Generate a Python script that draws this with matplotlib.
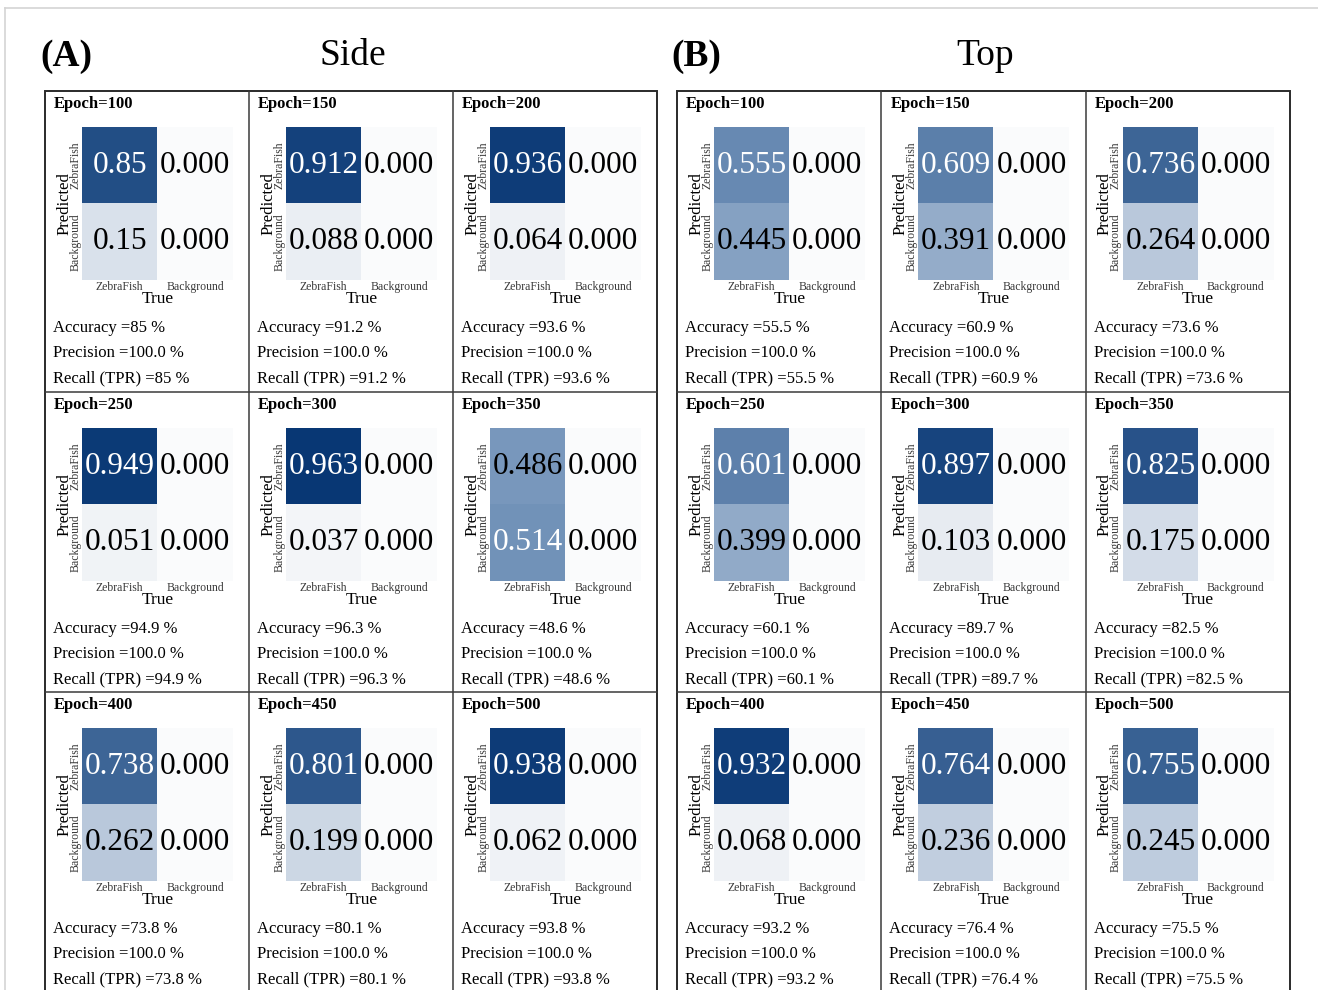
import numpy as np
import matplotlib
matplotlib.use("Agg")
import matplotlib.pyplot as plt
from matplotlib.colors import LinearSegmentedColormap
from matplotlib.lines import Line2D
from matplotlib.patches import Rectangle

plt.rcParams['font.family'] = ['Liberation Serif', 'DejaVu Serif']

# confusion matrix data (first column = true ZebraFish)
epochs = [100, 150, 200, 250, 300, 350, 400, 450, 500]
side_tp = [0.85, 0.912, 0.936, 0.949, 0.963, 0.486, 0.738, 0.801, 0.938]
side_fn = [0.15, 0.088, 0.064, 0.051, 0.037, 0.514, 0.262, 0.199, 0.062]
top_tp = [0.555, 0.609, 0.736, 0.601, 0.897, 0.825, 0.932, 0.764, 0.755]
top_fn = [0.445, 0.391, 0.264, 0.399, 0.103, 0.175, 0.068, 0.236, 0.245]
precision = [100.0] * 9
class_names = ["ZebraFish", "Background"]

W, H = 1318, 990
fig = plt.figure(figsize=(W / 100, H / 100), dpi=100)

cmap = LinearSegmentedColormap.from_list(
    "cm", [(0, "#fafbfc"), (0.1, "#e8ecf2"), (0.5, "#7595bb"), (1.0, "#00306f")])


def fx(x):
    return x / W


def fy(y):
    return 1 - y / H


def ftext(x, y, s, **kw):
    fig.text(fx(x), fy(y), s, **kw)


# page frame
fig.add_artist(Line2D([fx(5), fx(W)], [fy(8), fy(8)], color="#d4d4d4", lw=1.2))
fig.add_artist(Line2D([fx(5), fx(5)], [fy(8), fy(H)], color="#d4d4d4", lw=1.2))

panels = [("(A)", "Side", 45, 657, side_tp, side_fn, 66, 353),
          ("(B)", "Top", 677, 1290, top_tp, top_fn, 696, 985)]
row_tops = [91, 392, 692]

for tag, title, x0, x1, tp, fn, tagx, titlex in panels:
    ftext(tagx, 56, tag, fontsize=27, fontweight="bold", ha="center", va="center")
    ftext(titlex, 56, title, fontsize=27, ha="center", va="center")
    cw = (x1 - x0) / 3

    # grid lines
    fig.add_artist(Rectangle((fx(x0), fy(H + 20)), fx(x1) - fx(x0), fy(row_tops[0]) - fy(H + 20),
                             fill=False, ec="#2a2a2a", lw=1.4, transform=fig.transFigure))
    for k in (1, 2):
        xx = x0 + k * cw
        fig.add_artist(Line2D([fx(xx), fx(xx)], [fy(row_tops[0]), fy(H)], color="#3a3a3a", lw=1.1))
    for yy in row_tops[1:]:
        fig.add_artist(Line2D([fx(x0), fx(x1)], [fy(yy), fy(yy)], color="#3a3a3a", lw=1.1))

    for i, ep in enumerate(epochs):
        r, c = divmod(i, 3)
        cx = x0 + c * cw
        cy = row_tops[r]
        ftext(cx + 9, cy + 13, f"Epoch={ep}", fontsize=12, fontweight="bold", va="center")

        mat = np.array([[tp[i], 0.0], [fn[i], 0.0]])
        hx, hy, hw, hh = cx + 37, cy + 36, 151, 153
        ax = fig.add_axes([fx(hx), fy(hy + hh), hw / W, hh / H])
        ax.imshow(mat, cmap=cmap, vmin=0, vmax=1, aspect="auto")
        for (rr, cc), v in np.ndenumerate(mat):
            label = str(v) if cc == 0 else "0.000"
            ax.text(cc, rr, label, ha="center", va="center", fontsize=22.5,
                    color="white" if v > 0.5 else "black")
        ax.set_xticks([0, 1], class_names, fontsize=8.5, color="#3a3a3a")
        ax.set_yticks([0, 1], class_names, fontsize=8.5, color="#3a3a3a",
                      rotation=90, va="center")
        ax.tick_params(length=0, pad=0.5)
        ax.set_xlabel("True", fontsize=12.5, labelpad=-1)
        ax.set_ylabel("Predicted", fontsize=12, labelpad=-2)
        for s in ax.spines.values():
            s.set_visible(False)

        acc = f"{round(tp[i] * 100, 1):g}"
        ftext(cx + 8, cy + 237, f"Accuracy ={acc} %", fontsize=12, va="center")
        ftext(cx + 8, cy + 262, f"Precision ={precision[i]:.1f} %", fontsize=12, va="center")
        ftext(cx + 8, cy + 287, f"Recall (TPR) ={acc} %", fontsize=12, va="center")

fig.savefig("out.png", dpi=100)
